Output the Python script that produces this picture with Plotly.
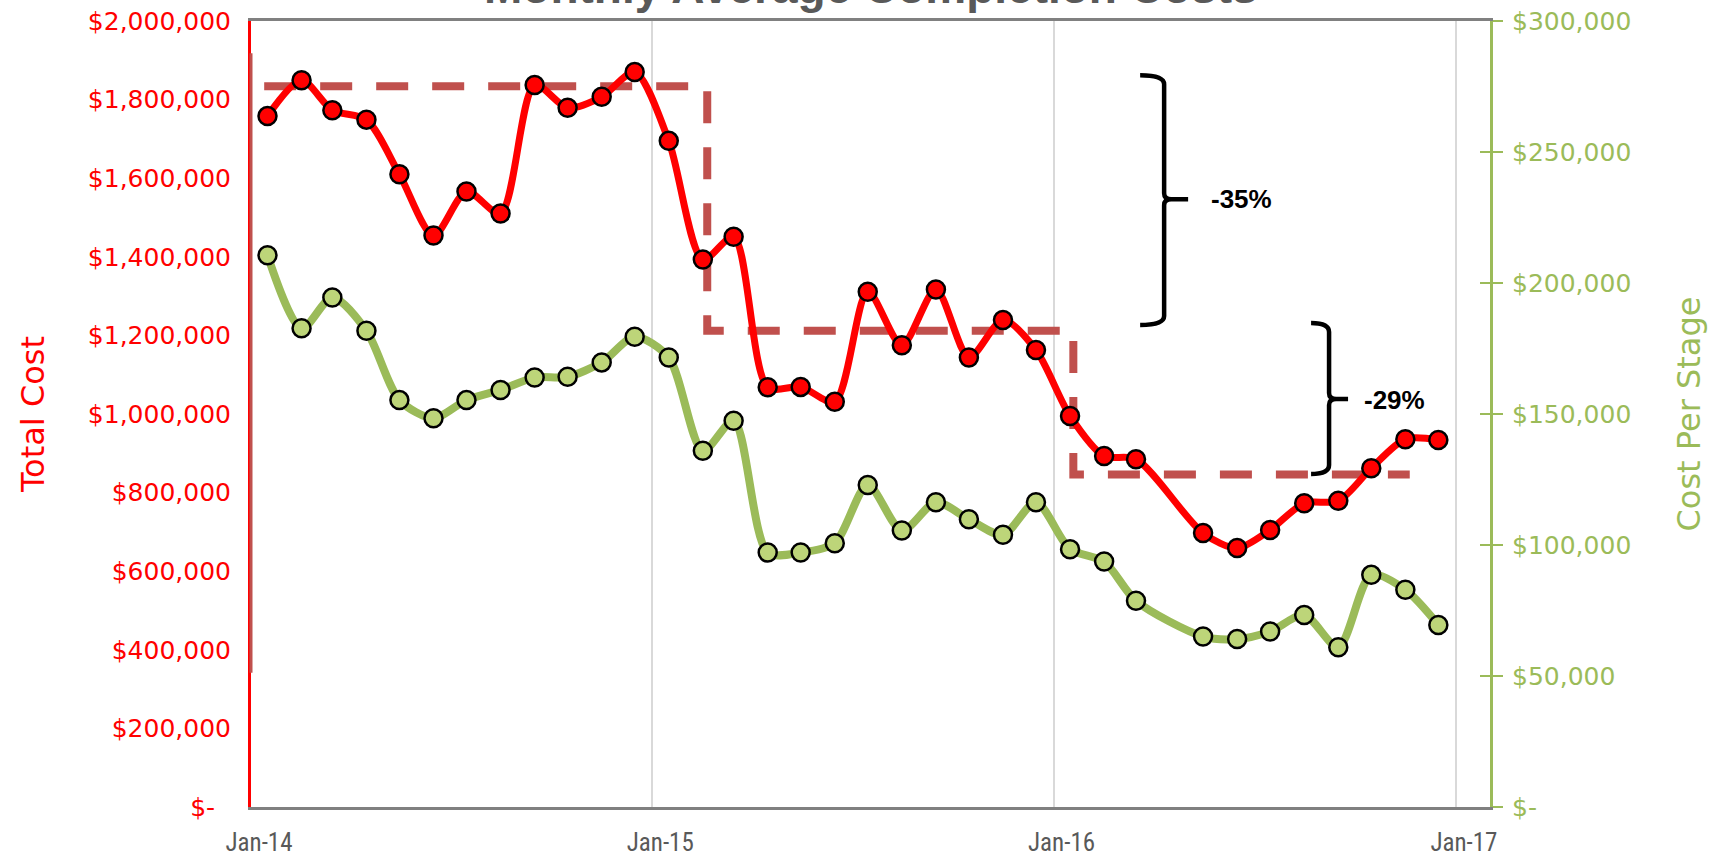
import pandas as pd
import plotly.graph_objects as go

# ---------------- data ----------------
month_labels = ["Jan-14", "Feb-14", "Mar-14", "Apr-14", "May-14", "Jun-14", "Jul-14", "Aug-14", "Sep-14", "Oct-14", "Nov-14", "Dec-14",
                "Jan-15", "Feb-15", "Mar-15", "Apr-15", "May-15", "Jun-15", "Jul-15", "Aug-15", "Sep-15", "Oct-15", "Nov-15", "Dec-15",
                "Jan-16", "Feb-16", "Mar-16", "Apr-16", "May-16", "Jun-16", "Jul-16", "Aug-16", "Sep-16", "Oct-16", "Nov-16", "Dec-16"]

total_cost = [1758000, 1849000, 1773000, 1749000, 1610000, 1454000, 1566000, 1510000, 1837000, 1779000, 1807000, 1870000,
              1695000, 1393000, 1451000, 1068000, 1069000, 1031000, 1311000, 1175000, 1317000, 1144000, 1239000, 1163000,
              995000, 893000, 885000, None, 697000, 659000, 705000, 773000, 779000, 862000, 936000, 934000]

cost_per_stage = [210600, 182700, 194500, 181800, 155300, 148400, 155300, 159200, 163900, 164200, 169700, 179500,
                  171600, 136000, 147400, 97100, 97100, 100700, 122900, 105500, 116300, 109800, 103900, 116300,
                  98400, 93700, 78700, None, 65100, 64100, 67000, 73300, 61000, 88600, 82900, 69500]

# step averages (dashed reference line)
avg_dates = ["2014-01-13", "2015-02-20", "2016-01-19", "2016-11-20"]
avg_values = [1834000, 1212000, 846000, 846000]

x_tick_dates = ["2014-01-01", "2015-01-01", "2016-01-01", "2017-01-01"]
x_tick_labels = ["Jan-14", "Jan-15", "Jan-16", "Jan-17"]
left_ticks = [0, 200000, 400000, 600000, 800000, 1000000, 1200000, 1400000, 1600000, 1800000, 2000000]
right_ticks = [0, 50000, 100000, 150000, 200000, 250000, 300000]

change_labels = ["-35%", "-29%"]

# mid-month positions for each month
x_dates = [pd.Timestamp(pd.to_datetime(m, format="%b-%y")) + pd.Timedelta(days=15) for m in month_labels]


def money(v):
    return "$-\u00a0\u00a0" if v == 0 else f"${v:,.0f}"


def money_r(v):
    return "$-" if v == 0 else f"${v:,.0f}"


RED = "#FF0000"
GREEN = "#9BBB59"
DASH = "#C0504D"
GREY = "#595959"
FONT = "DejaVu Sans"

fig = go.Figure()

fig.add_trace(go.Scatter(
    x=avg_dates, y=avg_values, mode="lines", line=dict(color=DASH, width=8, dash="32px,24px", shape="hv"),
    hoverinfo="skip", yaxis="y"))

fig.add_trace(go.Scatter(
    x=x_dates, y=cost_per_stage, mode="lines+markers", yaxis="y2", connectgaps=True,
    line=dict(color=GREEN, width=8, shape="spline", smoothing=0.8),
    marker=dict(size=18, color="#BDD579", line=dict(color="black", width=2.5))))

fig.add_trace(go.Scatter(
    x=x_dates, y=total_cost, mode="lines+markers", yaxis="y", connectgaps=True,
    line=dict(color=RED, width=7, shape="spline", smoothing=0.8),
    marker=dict(size=18, color=RED, line=dict(color="black", width=2.5))))

# invisible helper trace so the inside-tick overlay axis is drawn
fig.add_trace(go.Scatter(x=[], y=[], yaxis="y3", showlegend=False))

# ---------------- geometry helpers for decorations (pixels -> paper) ----------------
PL, PR, PT, PB = 250.5, 1490.0, 20.7, 807.3


def px(x):
    return (x - PL) / (PR - PL)


def py(y):
    return (PB - y) / (PB - PT)


def brace(xl, xs, xt, yt, ym, yb):
    p = lambda x, y: f"{px(x):.5f},{py(y):.5f}"
    return (f"M {p(xl, yt)} Q {p(xs, yt)} {p(xs, yt + 9)} L {p(xs, ym - 6)} "
            f"Q {p(xs, ym)} {p(xs + 7, ym)} L {p(xt, ym)} M {p(xs + 7, ym)} "
            f"Q {p(xs, ym)} {p(xs, ym + 6)} L {p(xs, yb - 9)} Q {p(xs, yb)} {p(xl, yb)}")


shapes = [
    dict(type="path", xref="paper", yref="paper", path=brace(1140, 1164, 1188, 75, 199, 325),
         line=dict(color="black", width=4.5)),
    dict(type="path", xref="paper", yref="paper", path=brace(1311, 1329, 1348, 323, 399, 474),
         line=dict(color="black", width=4.5)),
    dict(type="line", xref="paper", yref="paper", x0=0, x1=0, y0=py(673), y1=py(53),
         line=dict(color=DASH, width=3), layer="above"),
]

annotations = [
    dict(text="Monthly Average Completion Costs", xref="paper", yref="paper", x=0.5, y=1,
         xanchor="center", yanchor="bottom", yshift=6, showarrow=False,
         font=dict(family="Liberation Sans", size=46, color=GREY, weight="bold")),
    dict(text=f"<b>{change_labels[0]}</b>", xref="paper", yref="paper", x=px(1241), y=py(199),
         xanchor="center", yanchor="middle", showarrow=False,
         font=dict(family="Liberation Sans", size=26, color="black")),
    dict(text=f"<b>{change_labels[1]}</b>", xref="paper", yref="paper", x=px(1394), y=py(400),
         xanchor="center", yanchor="middle", showarrow=False,
         font=dict(family="Liberation Sans", size=26, color="black")),
]

fig.update_layout(
    width=1724, height=861,
    margin=dict(l=250.5, r=1724 - 1490, t=20.7, b=861 - 807.3, autoexpand=False),
    paper_bgcolor="white", plot_bgcolor="white",
    showlegend=False,
    shapes=shapes, annotations=annotations,
    xaxis=dict(
        type="date", range=["2014-01-01", "2017-02-01"], automargin=False,
        tickmode="array", tickvals=x_tick_dates, ticktext=x_tick_labels,
        ticklabelshift=8, ticklabelstandoff=11,
        tickfont=dict(family="Liberation Sans Narrow, Roboto Condensed, Roboto", size=25, color=GREY),
        showgrid=True, gridcolor="#D9D9D9", gridwidth=2,
        showline=True, linecolor="#808080", linewidth=3, mirror=True,
        ticks="", zeroline=False),
    yaxis=dict(
        range=[0, 2000000], tickmode="array", tickvals=left_ticks, ticktext=[money(v) for v in left_ticks],
        tickfont=dict(family=FONT, size=25, color=RED), ticklabelstandoff=12, automargin=False,
        showgrid=False, zeroline=False, showline=True, linecolor=RED, linewidth=3, ticks="",
        title=dict(text="Total Cost", font=dict(family=FONT, size=32, color=RED), standoff=34)),
    yaxis2=dict(
        range=[0, 300000], overlaying="y", side="right", tickmode="array", tickvals=right_ticks,
        ticktext=[money_r(v) for v in right_ticks], automargin=False,
        tickfont=dict(family=FONT, size=25, color=GREEN), ticklabelstandoff=4,
        showgrid=False, zeroline=False, showline=True, linecolor=GREEN, linewidth=3,
        ticks="outside", ticklen=10, tickwidth=2, tickcolor=GREEN,
        title=dict(text="Cost Per Stage", font=dict(family=FONT, size=32, color=GREEN), standoff=48)),
    yaxis3=dict(
        range=[0, 300000], overlaying="y", side="right", tickmode="array", tickvals=right_ticks,
        showticklabels=False, showgrid=False, zeroline=False, showline=False, automargin=False,
        ticks="inside", ticklen=10, tickwidth=2, tickcolor=GREEN),
)

fig.write_html("out.html")
